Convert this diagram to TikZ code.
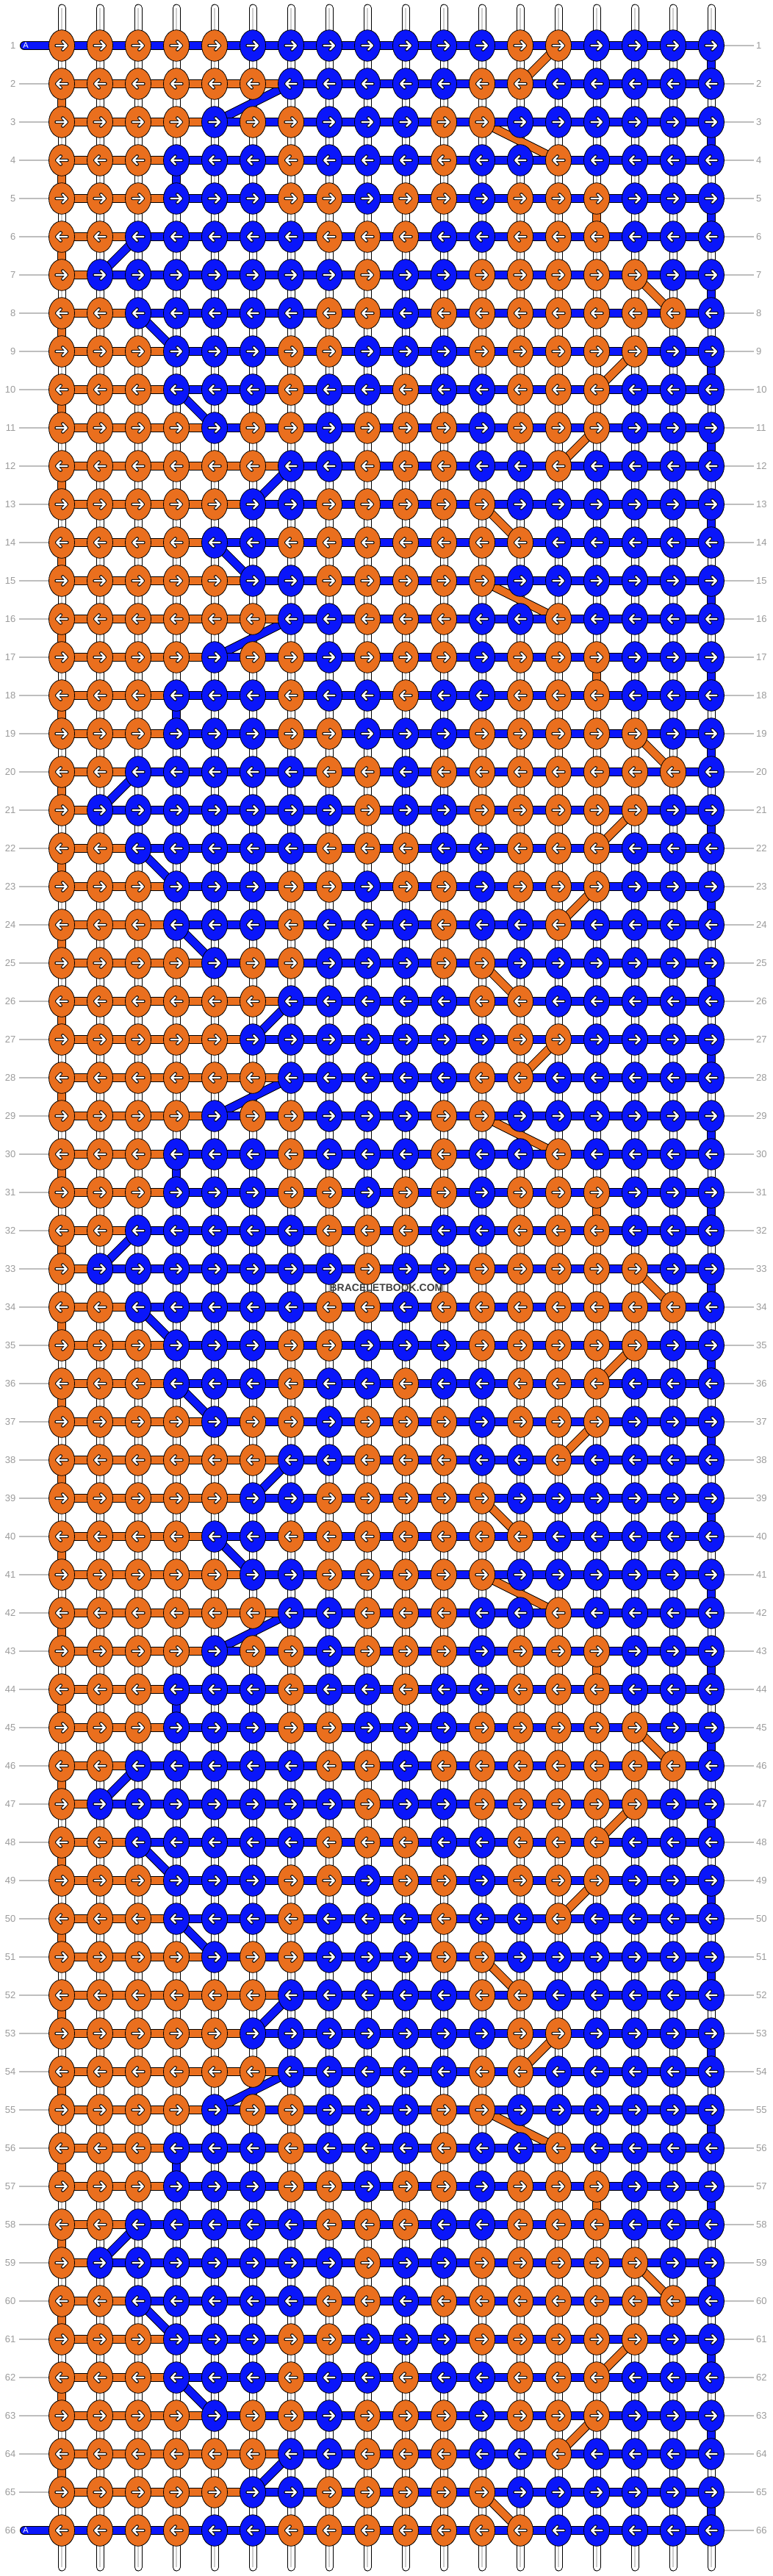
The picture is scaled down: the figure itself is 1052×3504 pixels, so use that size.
\documentclass[tikz,border=0pt]{standalone}
\usepackage{fontspec}
\setmainfont{Liberation Sans}
\usetikzlibrary{shapes.geometric}
\definecolor{kor}{RGB}{234,111,30}
\definecolor{kbl}{RGB}{10,22,250}
\definecolor{lblc}{RGB}{155,155,155}
\definecolor{glin}{RGB}{190,190,190}
\definecolor{strg}{RGB}{205,205,205}
\definecolor{wmk}{RGB}{64,64,64}
\pgfdeclarelayer{backg}
\pgfdeclarelayer{strings}
\pgfdeclarelayer{conns}
\pgfsetlayers{backg,strings,conns,main}
\newcommand\knotrow[1]{\ifcase#1 \or
0,0,0,0,0,1,1,1,1,1,1,1,0,0,1,1,1,1\or
0,0,0,0,0,0,1,1,1,1,1,0,0,1,1,1,1,1\or
0,0,0,0,1,0,0,1,1,1,0,0,1,1,1,1,1,1\or
0,0,0,1,1,1,0,1,1,1,0,1,1,0,1,1,1,1\or
0,0,0,1,1,1,0,0,1,0,0,1,0,0,0,1,1,1\or
0,0,1,1,1,1,1,0,0,0,1,1,0,0,0,1,1,1\or
0,1,1,1,1,1,1,1,0,1,1,0,0,0,0,0,1,1\or
0,0,1,1,1,1,1,0,0,1,0,0,0,0,0,0,0,1\or
0,0,0,1,1,1,0,0,1,1,1,0,0,0,0,0,1,1\or
0,0,0,1,1,1,0,1,1,0,1,1,0,0,0,1,1,1\or
0,0,0,0,1,0,0,1,0,0,0,1,0,0,0,1,1,1\or
0,0,0,0,0,0,1,1,0,0,0,1,1,0,1,1,1,1\or
0,0,0,0,0,1,1,0,0,0,0,0,1,1,1,1,1,1\or
0,0,0,0,1,1,0,0,0,0,0,0,0,1,1,1,1,1\fi}
\def\farr{{0,6,7,5,4,4,3,2,3,4,4,5,7,6,5}}
\def\garr{{0,14,13,12,14,15,15,16,17,16,15,15,14,12,13}}
\newcommand\getbase[2]{%
  \pgfmathtruncatemacro\tmpm{mod(#1-1,26)}%
  \pgfmathtruncatemacro#2{\tmpm<14 ? \tmpm+1 : 27-\tmpm}}
\newcommand\bline[3]{%
  \draw[line width=12pt,black] (#2) -- (#3);
  \draw[line width=10pt,#1] (#2) -- (#3);}
\begin{document}
\begin{tikzpicture}[x=1pt,y=-1pt,
  knot/.style={ellipse,draw=black,line width=0.8pt,minimum width=35pt,minimum height=42.6pt,inner sep=0pt},
  arrline/.style={line cap=round,line join=round},
  arrR/.pic={
    \draw[arrline,black,line width=4.4pt] (-7.5,0)--(6.8,0) (1.3,-5.6)--(6.8,0)--(1.3,5.6);
    \draw[arrline,white,line width=2.4pt] (-7.5,0)--(6.8,0) (1.3,-5.6)--(6.8,0)--(1.3,5.6);},
  arrL/.pic={
    \draw[arrline,black,line width=4.4pt] (7.5,0)--(-6.8,0) (-1.3,-5.6)--(-6.8,0)--(-1.3,5.6);
    \draw[arrline,white,line width=2.4pt] (7.5,0)--(-6.8,0) (-1.3,-5.6)--(-6.8,0)--(-1.3,5.6);},
  numlab/.style={text=lblc,font=\fontsize{13}{13}\selectfont,inner sep=0pt}]
\begin{pgfonlayer}{backg}
\fill[white] (0,0) rectangle (1052,3504);
\end{pgfonlayer}
\useasboundingbox (0,0) rectangle (1052,3504);
% knots
\foreach \r in {1,...,66}{
  \getbase{\r}{\bb}
  \edef\rl{\knotrow{\bb}}
  \pgfmathsetmacro\yy{10+52*\r}
  \foreach \c [count=\k] in \rl {
    \pgfmathsetmacro\xx{32+52*\k}
    \ifnum\c=1\relax\def\kc{kbl}\else\def\kc{kor}\fi
    \node[knot,fill=\kc] (k\r-\k) at (\xx,\yy) {};
    \ifodd\r\relax \pic at (\xx,\yy) {arrR};\else \pic at (\xx,\yy) {arrL};\fi
  }
  \node[numlab,anchor=east] (ll\r) at (21.5,\yy) {\r};
  \node[numlab,anchor=west] (rl\r) at (1029,\yy) {\r};
}
% connectors
\begin{pgfonlayer}{conns}
\foreach \r in {1,...,65}{
  \pgfmathtruncatemacro\rn{\r+1}
  \getbase{\r}{\ba}\getbase{\rn}{\bn}
  \ifodd\r\relax
    \pgfmathtruncatemacro\ca{\garr[\ba]}\pgfmathtruncatemacro\cn{\garr[\bn]}
    \bline{kbl}{k\r-18.center}{k\rn-18.center}
    \bline{kor}{k\r-\ca.center}{k\rn-\cn.center}
  \else
    \pgfmathtruncatemacro\ca{\farr[\ba]}\pgfmathtruncatemacro\cn{\farr[\bn]}
    \bline{kor}{k\r-1.center}{k\rn-1.center}
    \bline{kbl}{k\r-\ca.center}{k\rn-\cn.center}
  \fi
}
\foreach \r in {1,...,66}{
  \getbase{\r}{\ba}
  \pgfmathsetmacro\yy{10+52*\r}
  \def\isA{0}
  \ifnum\r=1\relax\def\isA{1}\fi
  \ifnum\r=66\relax\def\isA{1}\fi
  \ifnum\isA=1\relax
    \coordinate (a\r) at (33,\yy);
    \draw[line width=12pt,black,line cap=round] (a\r) -- (k\r-18.center);
    \draw[line width=10pt,kbl,line cap=round] (a\r) -- (k\r-18.center);
  \else
    \pgfmathtruncatemacro\fa{\farr[\ba]}
    \draw[line width=12pt,black] (k\r-1.center) -- (k\r-18.center);
    \draw[line width=10pt,kor] (k\r-1.center) -- (k\r-\fa.center);
    \draw[line width=10pt,kbl] (k\r-\fa.center) -- (k\r-18.center);
  \fi
}
\end{pgfonlayer}
% A labels
\node[text=white,font=\fontsize{11}{11}\selectfont,inner sep=0pt] (la1) at (35,62) {A};
\node[text=white,font=\fontsize{11}{11}\selectfont,inner sep=0pt] (la66) at (35,3442) {A};
% strings and guide lines
\begin{pgfonlayer}{strings}
\foreach \k in {1,...,18}{
  \pgfmathsetmacro\xx{32+52*\k}
  \coordinate (st\k) at (\xx,11);
  \coordinate (sb\k) at (\xx,3492);
  \draw[line width=11pt,black,line cap=round] (st\k) -- (sb\k);
  \draw[line width=9pt,white,line cap=round] (st\k) -- (sb\k);
  \draw[line width=1.4pt,strg] (st\k) -- (sb\k);
}
\foreach \r in {1,...,66}{
  \draw[glin,line width=1.3pt] (rl\r.west) ++(-3,0) -- (k\r-18.center);
}
\foreach \r in {2,...,65}{
  \draw[glin,line width=1.3pt] (ll\r.east) ++(4.5,0) -- (k\r-1.center);
}
\end{pgfonlayer}
% watermark
\node[text=wmk,font=\bfseries\fontsize{14}{14}\selectfont,inner sep=0pt] (wm) at (526,1752) {BRACELETBOOK.COM};
\end{tikzpicture}
\end{document}
